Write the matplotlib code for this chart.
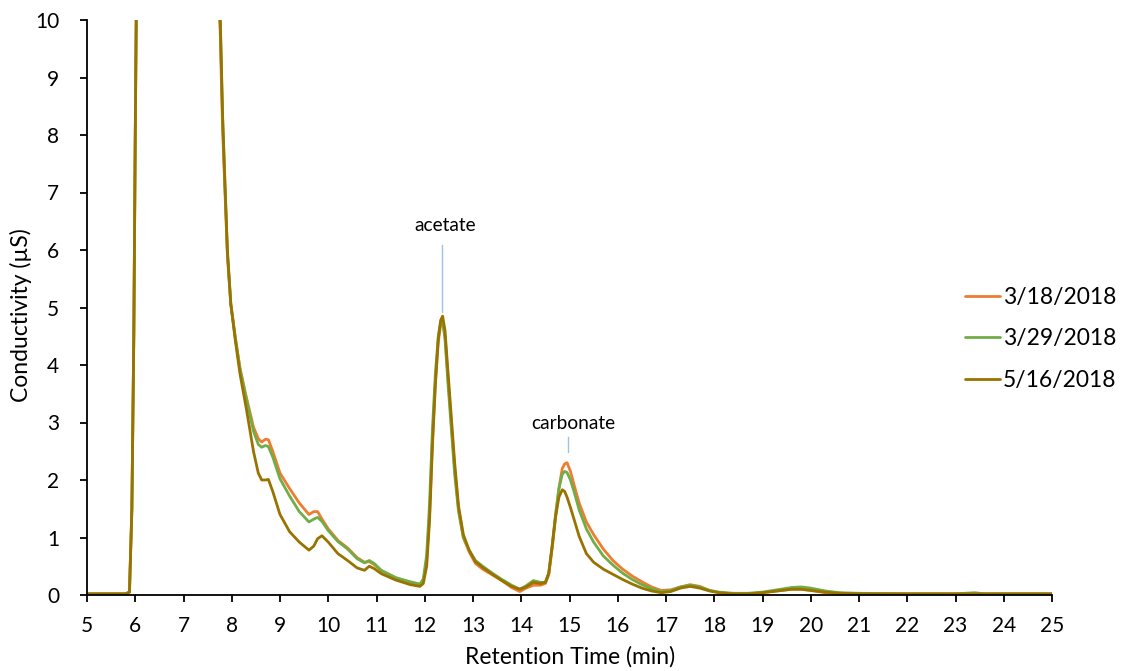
import matplotlib
matplotlib.use("Agg")
import matplotlib.pyplot as plt
from matplotlib.ticker import MultipleLocator

plt.rcParams['font.family'] = ['Lato', 'DejaVu Sans']

# Retention time grid (min)
time_min = [5.0, 5.8, 5.88, 5.93, 5.97, 6.0, 6.03, 6.1, 6.5, 7.0, 7.5, 7.7, 7.76, 7.81, 7.86,
            7.91, 7.98, 8.07, 8.17, 8.3, 8.45, 8.55, 8.62, 8.7, 8.76, 8.85, 9.0, 9.2, 9.4,
            9.6, 9.7, 9.78, 9.87, 10.0, 10.2, 10.4, 10.6, 10.75, 10.85, 10.95, 11.1, 11.4,
            11.7, 11.9, 11.97, 12.04, 12.1, 12.16, 12.22, 12.28, 12.33, 12.37, 12.42, 12.48,
            12.55, 12.62, 12.7, 12.8, 12.92, 13.05, 13.2, 13.4, 13.6, 13.8, 13.97, 14.1,
            14.25, 14.4, 14.5, 14.57, 14.64, 14.71, 14.78, 14.85, 14.9, 14.95, 15.02, 15.1,
            15.2, 15.35, 15.5, 15.7, 15.9, 16.1, 16.3, 16.5, 16.7, 16.9, 17.1, 17.3, 17.5,
            17.7, 17.9, 18.1, 18.4, 18.7, 19.0, 19.3, 19.6, 19.8, 20.0, 20.3, 20.6, 21.0,
            22.0, 23.0, 23.4, 23.6, 24.0, 25.0]

cond_0318 = [0.02, 0.02, 0.05, 1.5, 4.5, 8.0, 11.0, 20.0, 40.0, 35.0, 16.0, 10.9, 9.8, 8.1, 7.0,
             5.9, 5.05, 4.5, 3.95, 3.45, 2.92, 2.72, 2.66, 2.71, 2.70, 2.50, 2.12, 1.85, 1.60,
             1.40, 1.45, 1.45, 1.32, 1.15, 0.95, 0.82, 0.65, 0.57, 0.58, 0.53, 0.42, 0.30,
             0.22, 0.18, 0.25, 0.60, 1.40, 2.70, 3.70, 4.40, 4.70, 4.78, 4.50, 3.80,
             3.00, 2.20, 1.50, 1.00, 0.75, 0.55, 0.45, 0.35, 0.25, 0.13, 0.06, 0.12,
             0.17, 0.17, 0.20, 0.35, 0.80, 1.35, 1.85, 2.20, 2.28, 2.30, 2.15, 1.90,
             1.60, 1.27, 1.05, 0.80, 0.60, 0.45, 0.33, 0.23, 0.14, 0.08, 0.09, 0.14, 0.18,
             0.15, 0.08, 0.04, 0.01, 0.02, 0.04, 0.07, 0.10, 0.10, 0.08, 0.04, 0.03, 0.02,
             0.02, 0.02, 0.02, 0.02, 0.02, 0.02]

cond_0329 = [0.02, 0.02, 0.05, 1.5, 4.5, 8.0, 11.0, 20.0, 40.0, 35.0, 16.0, 11.1, 10.0, 8.3, 7.1,
             5.95, 5.07, 4.5, 3.93, 3.42, 2.85, 2.62, 2.57, 2.60, 2.58, 2.40, 2.02, 1.72, 1.45,
             1.27, 1.32, 1.35, 1.28, 1.12, 0.93, 0.80, 0.63, 0.56, 0.60, 0.55, 0.43, 0.30,
             0.23, 0.19, 0.28, 0.70, 1.60, 2.90, 3.85, 4.50, 4.75, 4.75, 4.45, 3.70,
             2.90, 2.10, 1.45, 1.00, 0.78, 0.60, 0.50, 0.38, 0.27, 0.17, 0.10, 0.16,
             0.25, 0.22, 0.22, 0.38, 0.85, 1.40, 1.85, 2.10, 2.15, 2.13, 2.00, 1.78,
             1.48, 1.15, 0.92, 0.68, 0.52, 0.38, 0.27, 0.18, 0.11, 0.06, 0.08, 0.14, 0.17,
             0.14, 0.08, 0.05, 0.03, 0.03, 0.05, 0.09, 0.13, 0.14, 0.12, 0.07, 0.04, 0.03,
             0.02, 0.02, 0.04, 0.02, 0.02, 0.02]

cond_0516 = [0.02, 0.02, 0.05, 1.5, 4.5, 8.0, 11.0, 20.0, 40.0, 35.0, 16.0, 11.2, 10.1, 8.35, 7.15,
             6.0, 5.07, 4.45, 3.85, 3.25, 2.50, 2.12, 2.00, 2.00, 2.01, 1.80, 1.40, 1.10, 0.92,
             0.78, 0.85, 0.98, 1.03, 0.92, 0.72, 0.60, 0.47, 0.43, 0.50, 0.46, 0.37, 0.26,
             0.18, 0.15, 0.20, 0.50, 1.30, 2.60, 3.65, 4.45, 4.78, 4.85, 4.60, 3.90,
             3.10, 2.30, 1.55, 1.05, 0.78, 0.58, 0.48, 0.36, 0.25, 0.15, 0.10, 0.14,
             0.22, 0.20, 0.22, 0.38, 0.85, 1.35, 1.70, 1.83, 1.80, 1.70, 1.52, 1.30,
             1.02, 0.72, 0.57, 0.45, 0.36, 0.27, 0.19, 0.12, 0.07, 0.04, 0.06, 0.12, 0.15,
             0.12, 0.07, 0.04, 0.02, 0.02, 0.04, 0.07, 0.10, 0.10, 0.08, 0.05, 0.03, 0.02,
             0.02, 0.02, 0.02, 0.02, 0.02, 0.02]

series_labels = ['3/18/2018', '3/29/2018', '5/16/2018']
series_colors = ['#ED7D31', '#70AD47', '#997300']
series_values = [cond_0318, cond_0329, cond_0516]

fig = plt.figure(figsize=(11.32, 6.71), dpi=100)
ax = fig.add_axes([87 / 1132, 1 - 595 / 671, 965 / 1132, 575 / 671])

lines = []
for vals, col, lab in zip(series_values, series_colors, series_labels):
    ln, = ax.plot(time_min, vals, color=col, lw=2.0, label=lab,
                  solid_joinstyle='round', solid_capstyle='round')
    lines.append(ln)

ax.set_xlim(5, 25)
ax.set_ylim(0, 10)
ax.xaxis.set_major_locator(MultipleLocator(1))
ax.yaxis.set_major_locator(MultipleLocator(1))
for s in ['top', 'right']:
    ax.spines[s].set_visible(False)
for s in ['left', 'bottom']:
    ax.spines[s].set_linewidth(1.3)
    ax.spines[s].set_color('black')
ax.tick_params(axis='both', direction='out', length=5, width=1.3, labelsize=15, colors='black')
ax.tick_params(axis='y', pad=15)
ax.tick_params(axis='x', pad=10)

fig.text(570 / 1132, 1 - 657 / 671, 'Retention Time (min)', ha='center', va='center', fontsize=16.5)
fig.text(21 / 1132, 1 - 315 / 671, 'Conductivity (µS)', ha='center', va='center',
         rotation=90, fontsize=16.5)

# peak annotations
ax.plot([12.36, 12.36], [4.92, 6.09], color='#9DC3E6', lw=1.0)
ax.text(12.42, 6.42, 'acetate', ha='center', va='center', fontsize=13.8)
ax.plot([14.97, 14.97], [2.49, 2.75], color='#9DC3E6', lw=1.0)
ax.text(15.07, 2.99, 'carbonate', ha='center', va='center', fontsize=13.8)

leg = fig.legend(handles=lines, labels=series_labels, loc='center left',
                 bbox_to_anchor=(965 / 1132, 1 - 339 / 671), frameon=False,
                 borderaxespad=0, borderpad=0,
                 fontsize=16.5, handlelength=1.53, handletextpad=0.13, labelspacing=0.88)

fig.savefig('out.png', dpi=100)
